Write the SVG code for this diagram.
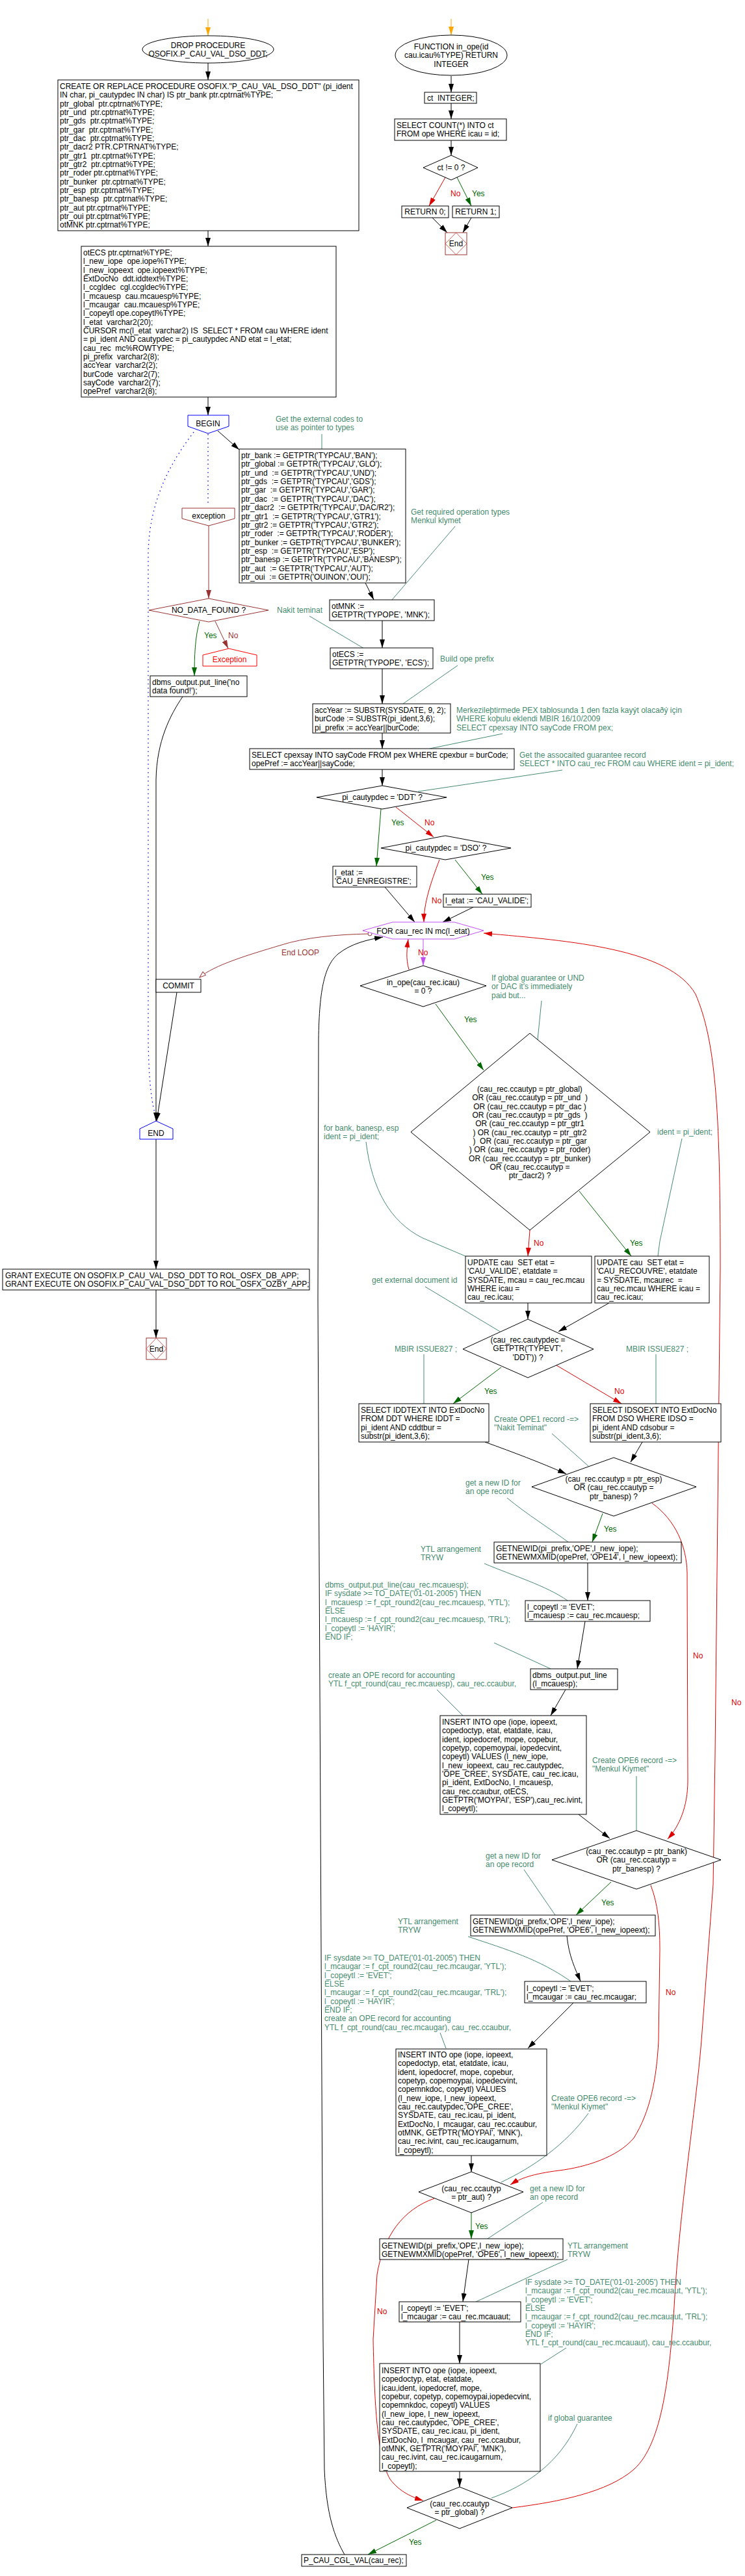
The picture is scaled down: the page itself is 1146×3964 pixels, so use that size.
<svg xmlns="http://www.w3.org/2000/svg" width="1146" height="3964" viewBox="0 0 1146 3964">
<style>
text{font-family:"Liberation Sans",Arial,sans-serif;font-size:12px;fill:#000;white-space:pre}
.m{text-anchor:middle}
.c{fill:#468a6e}
.y{fill:#006600}
.n{fill:#dd0000}
.dr{fill:#993333}
.box{fill:#fff;stroke:#000;stroke-width:1}
.e{fill:none;stroke:#000;stroke-width:1}
.eg{fill:none;stroke:#006600;stroke-width:1}
.er{fill:none;stroke:#dd0000;stroke-width:1}
.edr{fill:none;stroke:#993333;stroke-width:1}
.ec{fill:none;stroke:#468a6e;stroke-width:1}
.ep{fill:none;stroke:#c050f0;stroke-width:1}
.eb{fill:none;stroke:#0000ff;stroke-width:1.3;stroke-dasharray:1.5 5}
.term{fill:#fff;stroke:#993333;stroke-width:1}
</style>
<defs>
<marker id="a" markerUnits="userSpaceOnUse" markerWidth="13" markerHeight="8" refX="13" refY="4" orient="auto"><path d="M0,0L13,4L0,8Z" fill="#000"/></marker>
<marker id="ag" markerUnits="userSpaceOnUse" markerWidth="13" markerHeight="8" refX="13" refY="4" orient="auto"><path d="M0,0L13,4L0,8Z" fill="#006600"/></marker>
<marker id="ar" markerUnits="userSpaceOnUse" markerWidth="13" markerHeight="8" refX="13" refY="4" orient="auto"><path d="M0,0L13,4L0,8Z" fill="#dd0000"/></marker>
<marker id="adr" markerUnits="userSpaceOnUse" markerWidth="13" markerHeight="8" refX="13" refY="4" orient="auto"><path d="M0,0L13,4L0,8Z" fill="#993333"/></marker>
<marker id="ap" markerUnits="userSpaceOnUse" markerWidth="13" markerHeight="8" refX="13" refY="4" orient="auto"><path d="M0,0L13,4L0,8Z" fill="#c050f0"/></marker>
<marker id="ao" markerUnits="userSpaceOnUse" markerWidth="13" markerHeight="8" refX="13" refY="4" orient="auto"><path d="M0,0L13,4L0,8Z" fill="#ffa500"/></marker>
<marker id="aopen" markerUnits="userSpaceOnUse" markerWidth="11" markerHeight="8" refX="10" refY="4" orient="auto"><path d="M0.5,0.5L10,4L0.5,7.5Z" fill="#fff" stroke="#993333"/></marker>
</defs>

<g id="connectors">
<!-- procedure top -->
<line class="e" x1="320" y1="29" x2="320" y2="55" style="stroke:#ffa500" marker-end="url(#ao)"/>
<line class="e" x1="320" y1="97" x2="320" y2="123" marker-end="url(#a)"/>
<line class="e" x1="320" y1="355" x2="320" y2="379" marker-end="url(#a)"/>
<line class="e" x1="320" y1="611" x2="320" y2="639" marker-end="url(#a)"/>
<line class="e" x1="335" y1="663" x2="368" y2="692" marker-end="url(#a)"/>
<line class="eb" x1="320" y1="668" x2="320" y2="776"/>
<path class="eb" d="M298,665 C262,712 230,770 228,850 L228,1600 Q229,1680 238,1712"/>
<line class="edr" x1="321" y1="809" x2="321" y2="921" marker-end="url(#adr)"/>
<path class="eg" d="M307,956 C300,980 299,1010 299,1040" marker-end="url(#ag)"/>
<line class="edr" x1="331" y1="956" x2="351" y2="998" marker-end="url(#adr)"/>
<path class="e" d="M281,1072 C262,1100 241,1140 240,1200 L240,1725" marker-end="url(#a)"/>
<line class="e" x1="272" y1="1527" x2="241" y2="1725" marker-end="url(#a)"/>
<line class="e" x1="240" y1="1753" x2="240" y2="1953" marker-end="url(#a)"/>
<line class="e" x1="240" y1="1985" x2="240" y2="2059" marker-end="url(#a)"/>
<!-- init chain -->
<line class="e" x1="562" y1="897" x2="575" y2="923" marker-end="url(#a)"/>
<line class="e" x1="588" y1="955" x2="588" y2="997" marker-end="url(#a)"/>
<line class="e" x1="588" y1="1029" x2="588" y2="1083" marker-end="url(#a)"/>
<line class="e" x1="588" y1="1128" x2="588" y2="1152" marker-end="url(#a)"/>
<line class="e" x1="588" y1="1184" x2="588" y2="1209" marker-end="url(#a)"/>
<line class="eg" x1="586" y1="1245" x2="579" y2="1333" marker-end="url(#ag)"/>
<line class="er" x1="609" y1="1242" x2="667" y2="1288" marker-end="url(#ar)"/>
<line class="eg" x1="700" y1="1323" x2="742" y2="1376" marker-end="url(#ag)"/>
<path class="er" d="M676,1323 C662,1360 652,1390 652,1419" marker-end="url(#ar)"/>
<line class="e" x1="592" y1="1365" x2="638" y2="1419" marker-end="url(#a)"/>
<line class="e" x1="728" y1="1396" x2="681" y2="1419" marker-end="url(#a)"/>
<!-- loop -->
<path class="edr" d="M566,1437 C520,1438 470,1442 430,1455 C380,1470 330,1485 307,1504" marker-end="url(#aopen)"/>
<circle cx="569" cy="1437" r="3" fill="#fff" stroke="#993333"/>
<line class="ep" x1="651" y1="1445" x2="651" y2="1486" marker-end="url(#ap)"/>
<path class="er" d="M629,1492 C624,1475 626,1460 628,1445" marker-end="url(#ar)"/>
<path class="e" d="M530,3931 C515,3905 502,3870 499,3800 L497,3600 L489,2000 L490,1600 C491,1520 500,1485 520,1468 C540,1452 565,1446 589,1442" marker-end="url(#a)"/>
<path class="er" d="M788,3859 C860,3850 935,3835 975,3800 C1020,3760 1030,3650 1037,3550 C1045,3400 1070,3250 1079,3140 L1097,2900 L1100,2700 L1108,1950 C1108,1700 1100,1600 1070,1530 C1030,1460 880,1448 744,1436" marker-end="url(#ar)"/>
<line class="eg" x1="670" y1="1545" x2="744" y2="1647" marker-end="url(#ag)"/>
<line class="er" x1="815" y1="1893" x2="812" y2="1933" marker-end="url(#ar)"/>
<line class="eg" x1="891" y1="1833" x2="971" y2="1933" marker-end="url(#ag)"/>
<line class="e" x1="812" y1="2005" x2="812" y2="2030" marker-end="url(#a)"/>
<line class="e" x1="937" y1="2005" x2="859" y2="2049" marker-end="url(#a)"/>
<line class="eg" x1="771" y1="2104" x2="697" y2="2160" marker-end="url(#ag)"/>
<line class="er" x1="856" y1="2101" x2="956" y2="2160" marker-end="url(#ar)"/>
<path class="e" d="M746,2219 C790,2235 830,2250 871,2268" marker-end="url(#a)"/>
<line class="e" x1="988" y1="2219" x2="970" y2="2250" marker-end="url(#a)"/>
<line class="eg" x1="927" y1="2329" x2="911" y2="2373" marker-end="url(#ag)"/>
<path class="er" d="M1003,2313 C1040,2340 1056,2380 1057,2420 L1058,2740 C1058,2780 1045,2810 1027,2830" marker-end="url(#ar)"/>
<line class="e" x1="904" y1="2405" x2="904" y2="2463" marker-end="url(#a)"/>
<line class="e" x1="900" y1="2495" x2="888" y2="2568" marker-end="url(#a)"/>
<line class="e" x1="870" y1="2600" x2="847" y2="2640" marker-end="url(#a)"/>
<line class="e" x1="890" y1="2792" x2="938" y2="2829" marker-end="url(#a)"/>
<line class="eg" x1="940" y1="2896" x2="886" y2="2947" marker-end="url(#ag)"/>
<path class="er" d="M1001,2901 C1012,2930 1015,2960 1015,3000 L1013,3140 C1010,3200 1000,3250 975,3290 C950,3320 900,3335 860,3340 C820,3345 800,3352 785,3362" marker-end="url(#ar)"/>
<path class="e" d="M872,2979 C875,3010 885,3030 893,3049" marker-end="url(#a)"/>
<line class="e" x1="882" y1="3082" x2="812" y2="3152" marker-end="url(#a)"/>
<line class="e" x1="725" y1="3317" x2="725" y2="3342" marker-end="url(#a)"/>
<line class="eg" x1="725" y1="3405" x2="725" y2="3445" marker-end="url(#ag)"/>
<path class="er" d="M668,3383 C620,3400 590,3440 580,3500 L574,3600 C576,3700 580,3780 600,3815 C615,3835 635,3843 651,3848" marker-end="url(#ar)"/>
<line class="e" x1="721" y1="3477" x2="712" y2="3542" marker-end="url(#a)"/>
<line class="e" x1="707" y1="3573" x2="707" y2="3637" marker-end="url(#a)"/>
<line class="e" x1="707" y1="3803" x2="707" y2="3827" marker-end="url(#a)"/>
<line class="eg" x1="671" y1="3878" x2="566" y2="3931" marker-end="url(#ag)"/>
<!-- function -->
<line class="e" x1="694" y1="29" x2="694" y2="54" style="stroke:#ffa500" marker-end="url(#ao)"/>
<line class="e" x1="694" y1="117" x2="694" y2="142" marker-end="url(#a)"/>
<line class="e" x1="694" y1="159" x2="694" y2="183" marker-end="url(#a)"/>
<line class="e" x1="694" y1="216" x2="694" y2="239" marker-end="url(#a)"/>
<line class="er" x1="685" y1="273" x2="660" y2="317" marker-end="url(#ar)"/>
<line class="eg" x1="703" y1="273" x2="725" y2="317" marker-end="url(#ag)"/>
<line class="e" x1="665" y1="335" x2="688" y2="358" marker-end="url(#a)"/>
<line class="e" x1="725" y1="335" x2="712" y2="358" marker-end="url(#a)"/>
<!-- comment links -->
<line class="ec" x1="495" y1="668" x2="495" y2="692"/>
<line class="ec" x1="700" y1="810" x2="603" y2="923"/>
<line class="ec" x1="476" y1="948" x2="560" y2="998"/>
<path class="ec" d="M704,1024 L681,1040 L620,1083"/>
<line class="ec" x1="773" y1="1129" x2="661" y2="1152"/>
<line class="ec" x1="865" y1="1185" x2="643" y2="1218"/>
<line class="ec" x1="833" y1="1540" x2="827" y2="1600"/>
<path class="ec" d="M563,1757 C572,1830 600,1880 650,1905 L716,1933"/>
<path class="ec" d="M1049,1752 L1015,1910 L1012,1933"/>
<line class="ec" x1="654" y1="1980" x2="769" y2="2049"/>
<line class="ec" x1="652" y1="2084" x2="652" y2="2160"/>
<line class="ec" x1="1009" y1="2084" x2="1009" y2="2160"/>
<line class="ec" x1="849" y1="2206" x2="905" y2="2256"/>
<path class="ec" d="M780,2305 C810,2330 850,2355 874,2373"/>
<path class="ec" d="M745,2406 C790,2425 840,2440 873,2463"/>
<line class="ec" x1="760" y1="2528" x2="847" y2="2568"/>
<line class="ec" x1="672" y1="2600" x2="712" y2="2640"/>
<line class="ec" x1="979" y1="2733" x2="979" y2="2817"/>
<line class="ec" x1="806" y1="2877" x2="854" y2="2947"/>
<path class="ec" d="M720,2980 C780,3000 830,3015 878,3049"/>
<line class="ec" x1="677" y1="3128" x2="686" y2="3152"/>
<path class="ec" d="M905,3252 C870,3300 820,3335 771,3358"/>
<line class="ec" x1="835" y1="3389" x2="750" y2="3445"/>
<path class="ec" d="M873,3477 C820,3500 770,3525 732,3542"/>
<line class="ec" x1="871" y1="3613" x2="832" y2="3638"/>
<path class="ec" d="M888,3730 C860,3790 810,3825 756,3844"/>
</g>

<g id="edge-labels">
<text x="314" y="982" class="y">Yes</text>
<text x="351" y="982" class="dr">No</text>
<text x="602" y="1270" class="y">Yes</text>
<text x="653" y="1270" class="n">No</text>
<text x="740" y="1354" class="y">Yes</text>
<text x="664" y="1390" class="n">No</text>
<text x="433" y="1470" class="dr">End LOOP</text>
<text x="643" y="1470" class="n">No</text>
<text x="714" y="1573" class="y">Yes</text>
<text x="821" y="1917" class="n">No</text>
<text x="969" y="1917" class="y">Yes</text>
<text x="745" y="2145" class="y">Yes</text>
<text x="945" y="2145" class="n">No</text>
<text x="929" y="2357" class="y">Yes</text>
<text x="1066" y="2552" class="n">No</text>
<text x="1125" y="2624" class="n">No</text>
<text x="925" y="2932" class="y">Yes</text>
<text x="1024" y="3070" class="n">No</text>
<text x="731" y="3430" class="y">Yes</text>
<text x="580" y="3561" class="n">No</text>
<text x="629" y="3916" class="y">Yes</text>
<text x="693" y="302" class="n">No</text>
<text x="726" y="302" class="y">Yes</text>
</g>

<g id="comments">
<text x="424" y="649" class="c">Get the external codes to<tspan x="424" dy="13">use as pointer to types</tspan></text>
<text x="632" y="792" class="c">Get required operation types<tspan x="632" dy="13">Menkul klymet</tspan></text>
<text x="426" y="943" class="c">Nakit teminat</text>
<text x="677" y="1018" class="c">Build ope prefix</text>
<text x="702" y="1097" class="c">Merkezileþtirmede PEX tablosunda 1 den fazla kayýt olacaðý için<tspan x="702" dy="13.33">WHERE koþulu eklendi MBIR 16/10/2009</tspan><tspan x="702" dy="13.33">SELECT cpexsay INTO sayCode FROM pex;</tspan></text>
<text x="799" y="1166" class="c">Get the assocaited guarantee record<tspan x="799" dy="13.33">SELECT * INTO cau_rec FROM cau WHERE ident = pi_ident;</tspan></text>
<text x="756" y="1509" class="c">If global guarantee or UND<tspan x="756" dy="13.33">or DAC it's immediately</tspan><tspan x="756" dy="13.33">paid but...</tspan></text>
<text x="498" y="1740" class="c">for bank, banesp, esp<tspan x="498" dy="13.33">ident = pi_ident;</tspan></text>
<text x="1011" y="1746" class="c">ident = pi_ident;</text>
<text x="572" y="1974" class="c">get external document id</text>
<text x="607" y="2080" class="c">MBIR ISSUE827 ;</text>
<text x="963" y="2080" class="c">MBIR ISSUE827 ;</text>
<text x="760" y="2188" class="c">Create OPE1 record -=&gt;<tspan x="760" dy="13.33">"Nakit Teminat"</tspan></text>
<text x="716" y="2286" class="c">get a new ID for<tspan x="716" dy="13.33">an ope record</tspan></text>
<text x="647" y="2388" class="c">YTL arrangement<tspan x="647" dy="13.33">TRYW</tspan></text>
<text x="500" y="2443" class="c">dbms_output.put_line(cau_rec.mcauesp);<tspan x="500" dy="13.33">IF sysdate &gt;= TO_DATE('01-01-2005') THEN</tspan><tspan x="500" dy="13.33">l_mcauesp := f_cpt_round2(cau_rec.mcauesp, 'YTL');</tspan><tspan x="500" dy="13.33">ELSE</tspan><tspan x="500" dy="13.33">l_mcauesp := f_cpt_round2(cau_rec.mcauesp, 'TRL');</tspan><tspan x="500" dy="13.33">l_copeytl := 'HAYIR';</tspan><tspan x="500" dy="13.33">END IF;</tspan></text>
<text x="505" y="2582" class="c">create an OPE record for accounting<tspan x="505" dy="13.33">YTL f_cpt_round(cau_rec.mcauesp), cau_rec.ccaubur,</tspan></text>
<text x="911" y="2713" class="c">Create OPE6 record -=&gt;<tspan x="911" dy="13.33">"Menkul Kiymet"</tspan></text>
<text x="747" y="2860" class="c">get a new ID for<tspan x="747" dy="13.33">an ope record</tspan></text>
<text x="612" y="2961" class="c">YTL arrangement<tspan x="612" dy="13.33">TRYW</tspan></text>
<text x="499" y="3017" class="c">IF sysdate &gt;= TO_DATE('01-01-2005') THEN<tspan x="499" dy="13.33">l_mcaugar := f_cpt_round2(cau_rec.mcaugar, 'YTL');</tspan><tspan x="499" dy="13.33">l_copeytl := 'EVET';</tspan><tspan x="499" dy="13.33">ELSE</tspan><tspan x="499" dy="13.33">l_mcaugar := f_cpt_round2(cau_rec.mcaugar, 'TRL');</tspan><tspan x="499" dy="13.33">l_copeytl := 'HAYIR';</tspan><tspan x="499" dy="13.33">END IF;</tspan><tspan x="499" dy="13.33">create an OPE record for accounting</tspan><tspan x="499" dy="13.33">YTL f_cpt_round(cau_rec.mcaugar), cau_rec.ccaubur,</tspan></text>
<text x="848" y="3233" class="c">Create OPE6 record -=&gt;<tspan x="848" dy="13.33">"Menkul Kiymet"</tspan></text>
<text x="815" y="3372" class="c">get a new ID for<tspan x="815" dy="13.33">an ope record</tspan></text>
<text x="873" y="3460" class="c">YTL arrangement<tspan x="873" dy="13.33">TRYW</tspan></text>
<text x="808" y="3516" class="c">IF sysdate &gt;= TO_DATE('01-01-2005') THEN<tspan x="808" dy="13.33">l_mcaugar := f_cpt_round2(cau_rec.mcauaut, 'YTL');</tspan><tspan x="808" dy="13.33">l_copeytl := 'EVET';</tspan><tspan x="808" dy="13.33">ELSE</tspan><tspan x="808" dy="13.33">l_mcaugar := f_cpt_round2(cau_rec.mcauaut, 'TRL');</tspan><tspan x="808" dy="13.33">l_copeytl := 'HAYIR';</tspan><tspan x="808" dy="13.33">END IF;</tspan><tspan x="808" dy="13.33">YTL f_cpt_round(cau_rec.mcauaut), cau_rec.ccaubur,</tspan></text>
<text x="843" y="3725" class="c">if global guarantee</text>
</g>

<g id="n-drop"><ellipse cx="320" cy="76" rx="101" ry="21" class="box"/><text x="320" y="74" class="m">DROP PROCEDURE<tspan x="320" dy="13">OSOFIX.P_CAU_VAL_DSO_DDT;</tspan></text></g>
<g id="n-create"><rect x="89" y="123" width="463" height="232" class="box"/><text x="92" y="137">CREATE OR REPLACE PROCEDURE OSOFIX."P_CAU_VAL_DSO_DDT" (pi_ident<tspan x="92" dy="13.33">IN char, pi_cautypdec IN char) IS ptr_bank ptr.cptrnat%TYPE;</tspan><tspan x="92" dy="13.33">ptr_global  ptr.cptrnat%TYPE;</tspan><tspan x="92" dy="13.33">ptr_und  ptr.cptrnat%TYPE;</tspan><tspan x="92" dy="13.33">ptr_gds  ptr.cptrnat%TYPE;</tspan><tspan x="92" dy="13.33">ptr_gar  ptr.cptrnat%TYPE;</tspan><tspan x="92" dy="13.33">ptr_dac  ptr.cptrnat%TYPE;</tspan><tspan x="92" dy="13.33">ptr_dacr2 PTR.CPTRNAT%TYPE;</tspan><tspan x="92" dy="13.33">ptr_gtr1  ptr.cptrnat%TYPE;</tspan><tspan x="92" dy="13.33">ptr_gtr2  ptr.cptrnat%TYPE;</tspan><tspan x="92" dy="13.33">ptr_roder ptr.cptrnat%TYPE;</tspan><tspan x="92" dy="13.33">ptr_bunker  ptr.cptrnat%TYPE;</tspan><tspan x="92" dy="13.33">ptr_esp  ptr.cptrnat%TYPE;</tspan><tspan x="92" dy="13.33">ptr_banesp  ptr.cptrnat%TYPE;</tspan><tspan x="92" dy="13.33">ptr_aut ptr.cptrnat%TYPE;</tspan><tspan x="92" dy="13.33">ptr_oui ptr.cptrnat%TYPE;</tspan><tspan x="92" dy="13.33">otMNK ptr.cptrnat%TYPE;</tspan></text></g>
<g id="n-decl"><rect x="125" y="379" width="392" height="232" class="box"/><text x="128" y="393">otECS ptr.cptrnat%TYPE;<tspan x="128" dy="13.33">l_new_iope  ope.iope%TYPE;</tspan><tspan x="128" dy="13.33">l_new_iopeext  ope.iopeext%TYPE;</tspan><tspan x="128" dy="13.33">ExtDocNo  ddt.iddtext%TYPE;</tspan><tspan x="128" dy="13.33">l_ccgldec  cgl.ccgldec%TYPE;</tspan><tspan x="128" dy="13.33">l_mcauesp  cau.mcauesp%TYPE;</tspan><tspan x="128" dy="13.33">l_mcaugar  cau.mcauesp%TYPE;</tspan><tspan x="128" dy="13.33">l_copeytl ope.copeytl%TYPE;</tspan><tspan x="128" dy="13.33">l_etat  varchar2(20);</tspan><tspan x="128" dy="13.33">CURSOR mc(l_etat  varchar2) IS  SELECT * FROM cau WHERE ident</tspan><tspan x="128" dy="13.33">= pi_ident AND cautypdec = pi_cautypdec AND etat = l_etat;</tspan><tspan x="128" dy="13.33">cau_rec  mc%ROWTYPE;</tspan><tspan x="128" dy="13.33">pi_prefix  varchar2(8);</tspan><tspan x="128" dy="13.33">accYear  varchar2(2);</tspan><tspan x="128" dy="13.33">burCode  varchar2(7);</tspan><tspan x="128" dy="13.33">sayCode  varchar2(7);</tspan><tspan x="128" dy="13.33">opePref  varchar2(8);</tspan></text></g>
<g id="n-begin"><path d="M289,639H352V656L320,667L289,656Z" fill="#fff" stroke="#0000ff"/><text x="320" y="656" class="m">BEGIN</text></g>
<g id="n-ptr"><rect x="368" y="691" width="256" height="206" class="box"/><text x="371" y="705">ptr_bank := GETPTR('TYPCAU','BAN');<tspan x="371" dy="13.36">ptr_global := GETPTR('TYPCAU','GLO');</tspan><tspan x="371" dy="13.36">ptr_und  := GETPTR('TYPCAU','UND');</tspan><tspan x="371" dy="13.36">ptr_gds  := GETPTR('TYPCAU','GDS');</tspan><tspan x="371" dy="13.36">ptr_gar  := GETPTR('TYPCAU','GAR');</tspan><tspan x="371" dy="13.36">ptr_dac  := GETPTR('TYPCAU','DAC');</tspan><tspan x="371" dy="13.36">ptr_dacr2  := GETPTR('TYPCAU','DAC/R2');</tspan><tspan x="371" dy="13.36">ptr_gtr1  := GETPTR('TYPCAU','GTR1');</tspan><tspan x="371" dy="13.36">ptr_gtr2 := GETPTR('TYPCAU','GTR2');</tspan><tspan x="371" dy="13.36">ptr_roder  := GETPTR('TYPCAU','RODER');</tspan><tspan x="371" dy="13.36">ptr_bunker := GETPTR('TYPCAU','BUNKER');</tspan><tspan x="371" dy="13.36">ptr_esp  := GETPTR('TYPCAU','ESP');</tspan><tspan x="371" dy="13.36">ptr_banesp := GETPTR('TYPCAU','BANESP');</tspan><tspan x="371" dy="13.36">ptr_aut  := GETPTR('TYPCAU','AUT');</tspan><tspan x="371" dy="13.36">ptr_oui  := GETPTR('OUINON','OUI');</tspan></text></g>
<g id="n-exception"><path d="M280,782H361V798L321,809L280,798Z" fill="#fff" stroke="#993333"/><text x="321" y="798" class="m">exception</text></g>
<g id="n-nodata"><polygon points="321,921 413,939 321,957 229,939" fill="#fff" stroke="#993333"/><text x="321" y="943" class="m">NO_DATA_FOUND ?</text></g>
<g id="n-exc2"><path d="M312,1008L352,998L395,1008V1025H312Z" fill="#fff" stroke="#ff0000"/><text x="353" y="1019" class="m" style="fill:#ff0000">Exception</text></g>
<g id="n-dbmsno"><rect x="231" y="1040" width="149" height="32" class="box"/><text x="234" y="1054">dbms_output.put_line('no<tspan x="234" dy="13.33">data found!');</tspan></text></g>
<g id="n-otmnk"><rect x="507" y="923" width="161" height="32" class="box"/><text x="510" y="937">otMNK :=<tspan x="510" dy="13.33">GETPTR('TYPOPE', 'MNK');</tspan></text></g>
<g id="n-otecs"><rect x="508" y="997" width="158" height="32" class="box"/><text x="511" y="1011">otECS :=<tspan x="511" dy="13.33">GETPTR('TYPOPE', 'ECS');</tspan></text></g>
<g id="n-accyear"><rect x="481" y="1083" width="212" height="45" class="box"/><text x="484" y="1097">accYear := SUBSTR(SYSDATE, 9, 2);<tspan x="484" dy="13.33">burCode := SUBSTR(pi_ident,3,6);</tspan><tspan x="484" dy="13.33">pi_prefix := accYear||burCode;</tspan></text></g>
<g id="n-cpexsay"><rect x="384" y="1152" width="407" height="32" class="box"/><text x="387" y="1166">SELECT cpexsay INTO sayCode FROM pex WHERE cpexbur = burCode;<tspan x="387" dy="13.33">opePref := accYear||sayCode;</tspan></text></g>
<g id="n-ddt"><polygon points="588,1209 687,1227 588,1245 487,1227" class="box"/><text x="588" y="1231" class="m">pi_cautypdec = 'DDT' ?</text></g>
<g id="n-dso"><polygon points="685,1286 786,1305 685,1323 586,1305" class="box"/><text x="686" y="1309" class="m">pi_cautypdec = 'DSO' ?</text></g>
<g id="n-enreg"><rect x="512" y="1333" width="129" height="32" class="box"/><text x="515" y="1347">l_etat :=<tspan x="515" dy="13.33">'CAU_ENREGISTRE';</tspan></text></g>
<g id="n-valide"><rect x="682" y="1376" width="135" height="20" class="box"/><text x="685" y="1390">l_etat := 'CAU_VALIDE';</text></g>
<g id="n-for"><polygon points="558,1432 604,1419 699,1419 744,1432 699,1445 604,1445" fill="#fff" stroke="#c050f0"/><text x="651" y="1437" class="m">FOR cau_rec IN mc(l_etat)</text></g>
<g id="n-commit"><rect x="240" y="1507" width="69" height="20" class="box"/><text x="274.5" y="1521" class="m">COMMIT</text></g>
<g id="n-end"><path d="M240,1725L266,1737V1753H215V1737Z" fill="#fff" stroke="#0000ff"/><text x="240" y="1748" class="m">END</text></g>
<g id="n-grant"><rect x="4" y="1953" width="472" height="32" class="box"/><text x="8" y="1967">GRANT EXECUTE ON OSOFIX.P_CAU_VAL_DSO_DDT TO ROL_OSFX_DB_APP;<tspan x="8" dy="13.33">GRANT EXECUTE ON OSOFIX.P_CAU_VAL_DSO_DDT TO ROL_OSFX_OZBY_APP;</tspan></text></g>
<g id="n-endterm"><rect x="225" y="2059" width="31" height="33" class="term"/><polygon points="240.5,2059 256,2075.5 240.5,2092 225,2075.5" fill="none" stroke="#cc3333" stroke-width="0.8"/><text x="240.5" y="2080" class="m">End</text></g>
<g id="n-inope"><polygon points="651,1486 748,1517 651,1549 554,1517" class="box"/><text x="651" y="1516" class="m">in_ope(cau_rec.icau)<tspan x="651" dy="13.33">= 0 ?</tspan></text></g>
<g id="n-bigdiamond"><polygon points="815,1590 1000,1742 815,1893 632,1742" class="box"/><text x="815" y="1680" class="m">(cau_rec.ccautyp = ptr_global)<tspan x="815" dy="13.33">OR (cau_rec.ccautyp = ptr_und  )</tspan><tspan x="815" dy="13.33">OR (cau_rec.ccautyp = ptr_dac )</tspan><tspan x="815" dy="13.33">OR (cau_rec.ccautyp = ptr_gds  )</tspan><tspan x="815" dy="13.33">OR (cau_rec.ccautyp = ptr_gtr1</tspan><tspan x="815" dy="13.33">) OR (cau_rec.ccautyp = ptr_gtr2</tspan><tspan x="815" dy="13.33">)  OR (cau_rec.ccautyp = ptr_gar</tspan><tspan x="815" dy="13.33">) OR (cau_rec.ccautyp = ptr_roder)</tspan><tspan x="815" dy="13.33">OR (cau_rec.ccautyp = ptr_bunker)</tspan><tspan x="815" dy="13.33">OR (cau_rec.ccautyp =</tspan><tspan x="815" dy="13.33">ptr_dacr2) ?</tspan></text></g>
<g id="n-upd-valide"><rect x="716" y="1933" width="194" height="72" class="box"/><text x="719" y="1947">UPDATE cau  SET etat =<tspan x="719" dy="13.33">'CAU_VALIDE', etatdate =</tspan><tspan x="719" dy="13.33">SYSDATE, mcau = cau_rec.mcau</tspan><tspan x="719" dy="13.33">WHERE icau =</tspan><tspan x="719" dy="13.33">cau_rec.icau;</tspan></text></g>
<g id="n-upd-recouvre"><rect x="915" y="1933" width="176" height="72" class="box"/><text x="918" y="1947">UPDATE cau  SET etat =<tspan x="918" dy="13.33">'CAU_RECOUVRE', etatdate</tspan><tspan x="918" dy="13.33">= SYSDATE, mcaurec  =</tspan><tspan x="918" dy="13.33">cau_rec.mcau WHERE icau =</tspan><tspan x="918" dy="13.33">cau_rec.icau;</tspan></text></g>
<g id="n-typevt"><polygon points="812,2030 913,2076 812,2120 712,2076" class="box"/><text x="812" y="2066" class="m">(cau_rec.cautypdec =<tspan x="812" dy="13.33">GETPTR('TYPEVT',</tspan><tspan x="812" dy="13.33">'DDT')) ?</tspan></text></g>
<g id="n-iddtext"><rect x="552" y="2160" width="200" height="59" class="box"/><text x="555" y="2174">SELECT IDDTEXT INTO ExtDocNo<tspan x="555" dy="13.33">FROM DDT WHERE IDDT =</tspan><tspan x="555" dy="13.33">pi_ident AND cddtbur =</tspan><tspan x="555" dy="13.33">substr(pi_ident,3,6);</tspan></text></g>
<g id="n-idsoext"><rect x="908" y="2160" width="201" height="59" class="box"/><text x="911" y="2174">SELECT IDSOEXT INTO ExtDocNo<tspan x="911" dy="13.33">FROM DSO WHERE IDSO =</tspan><tspan x="911" dy="13.33">pi_ident AND cdsobur =</tspan><tspan x="911" dy="13.33">substr(pi_ident,3,6);</tspan></text></g>
<g id="n-esp"><polygon points="944,2243 1071,2288 944,2333 818,2288" class="box"/><text x="944" y="2280" class="m">(cau_rec.ccautyp = ptr_esp)<tspan x="944" dy="13.33">OR (cau_rec.ccautyp =</tspan><tspan x="944" dy="13.33">ptr_banesp) ?</tspan></text></g>
<g id="n-newid1"><rect x="760" y="2373" width="288" height="32" class="box"/><text x="763" y="2387">GETNEWID(pi_prefix,'OPE',l_new_iope);<tspan x="763" dy="13.33">GETNEWMXMID(opePref, 'OPE14', l_new_iopeext);</tspan></text></g>
<g id="n-copeytl1"><rect x="808" y="2463" width="192" height="32" class="box"/><text x="811" y="2477">l_copeytl := 'EVET';<tspan x="811" dy="13.33">l_mcauesp := cau_rec.mcauesp;</tspan></text></g>
<g id="n-dbms2"><rect x="816" y="2568" width="134" height="32" class="box"/><text x="819" y="2582">dbms_output.put_line<tspan x="819" dy="13.33">(l_mcauesp);</tspan></text></g>
<g id="n-insert1"><rect x="677" y="2640" width="225" height="152" class="box"/><text x="680" y="2654">INSERT INTO ope (iope, iopeext,<tspan x="680" dy="13.33">copedoctyp, etat, etatdate, icau,</tspan><tspan x="680" dy="13.33">ident, iopedocref, mope, copebur,</tspan><tspan x="680" dy="13.33">copetyp, copemoypai, iopedecvint,</tspan><tspan x="680" dy="13.33">copeytl) VALUES (l_new_iope,</tspan><tspan x="680" dy="13.33">l_new_iopeext, cau_rec.cautypdec,</tspan><tspan x="680" dy="13.33">'OPE_CREE', SYSDATE, cau_rec.icau,</tspan><tspan x="680" dy="13.33">pi_ident, ExtDocNo, l_mcauesp,</tspan><tspan x="680" dy="13.33">cau_rec.ccaubur, otECS,</tspan><tspan x="680" dy="13.33">GETPTR('MOYPAI', 'ESP'),cau_rec.ivint,</tspan><tspan x="680" dy="13.33">l_copeytl);</tspan></text></g>
<g id="n-bank"><polygon points="979,2817 1109,2862 979,2907 849,2862" class="box"/><text x="979" y="2853" class="m">(cau_rec.ccautyp = ptr_bank)<tspan x="979" dy="13.33">OR (cau_rec.ccautyp =</tspan><tspan x="979" dy="13.33">ptr_banesp) ?</tspan></text></g>
<g id="n-newid2"><rect x="724" y="2947" width="284" height="32" class="box"/><text x="727" y="2961">GETNEWID(pi_prefix,'OPE',l_new_iope);<tspan x="727" dy="13.33">GETNEWMXMID(opePref, 'OPE6', l_new_iopeext);</tspan></text></g>
<g id="n-copeytl2"><rect x="807" y="3049" width="187" height="33" class="box"/><text x="810" y="3064">l_copeytl := 'EVET';<tspan x="810" dy="13.33">l_mcaugar := cau_rec.mcaugar;</tspan></text></g>
<g id="n-insert2"><rect x="609" y="3153" width="232" height="164" class="box"/><text x="612" y="3166">INSERT INTO ope (iope, iopeext,<tspan x="612" dy="13.33">copedoctyp, etat, etatdate, icau,</tspan><tspan x="612" dy="13.33">ident, iopedocref, mope, copebur,</tspan><tspan x="612" dy="13.33">copetyp, copemoypai, iopedecvint,</tspan><tspan x="612" dy="13.33">copemnkdoc, copeytl) VALUES</tspan><tspan x="612" dy="13.33">(l_new_iope, l_new_iopeext,</tspan><tspan x="612" dy="13.33">cau_rec.cautypdec,'OPE_CREE',</tspan><tspan x="612" dy="13.33">SYSDATE, cau_rec.icau, pi_ident,</tspan><tspan x="612" dy="13.33">ExtDocNo, l_mcaugar, cau_rec.ccaubur,</tspan><tspan x="612" dy="13.33">otMNK, GETPTR('MOYPAI', 'MNK'),</tspan><tspan x="612" dy="13.33">cau_rec.ivint, cau_rec.icaugarnum,</tspan><tspan x="612" dy="13.33">l_copeytl);</tspan></text></g>
<g id="n-aut"><polygon points="725,3342 805,3373 725,3405 644,3373" class="box"/><text x="725" y="3372" class="m">(cau_rec.ccautyp<tspan x="725" dy="13.33">= ptr_aut) ?</tspan></text></g>
<g id="n-newid3"><rect x="584" y="3445" width="282" height="32" class="box"/><text x="587" y="3460">GETNEWID(pi_prefix,'OPE',l_new_iope);<tspan x="587" dy="13.33">GETNEWMXMID(opePref, 'OPE6', l_new_iopeext);</tspan></text></g>
<g id="n-copeytl3"><rect x="614" y="3542" width="187" height="31" class="box"/><text x="617" y="3556">l_copeytl := 'EVET';<tspan x="617" dy="13.33">l_mcaugar := cau_rec.mcauaut;</tspan></text></g>
<g id="n-insert3"><rect x="584" y="3637" width="247" height="166" class="box"/><text x="587" y="3652">INSERT INTO ope (iope, iopeext,<tspan x="587" dy="13.33">copedoctyp, etat, etatdate,</tspan><tspan x="587" dy="13.33">icau,ident, iopedocref, mope,</tspan><tspan x="587" dy="13.33">copebur, copetyp, copemoypai,iopedecvint,</tspan><tspan x="587" dy="13.33">copemnkdoc, copeytl) VALUES</tspan><tspan x="587" dy="13.33">(l_new_iope, l_new_iopeext,</tspan><tspan x="587" dy="13.33">cau_rec.cautypdec, 'OPE_CREE',</tspan><tspan x="587" dy="13.33">SYSDATE, cau_rec.icau, pi_ident,</tspan><tspan x="587" dy="13.33">ExtDocNo, l_mcaugar, cau_rec.ccaubur,</tspan><tspan x="587" dy="13.33">otMNK, GETPTR('MOYPAI', 'MNK'),</tspan><tspan x="587" dy="13.33">cau_rec.ivint, cau_rec.icaugarnum,</tspan><tspan x="587" dy="13.33">l_copeytl);</tspan></text></g>
<g id="n-global"><polygon points="707,3827 788,3859 707,3891 626,3859" class="box"/><text x="707" y="3857" class="m">(cau_rec.ccautyp<tspan x="707" dy="13.33">= ptr_global) ?</tspan></text></g>
<g id="n-cgl"><rect x="464" y="3931" width="161" height="18" class="box"/><text x="467" y="3944">P_CAU_CGL_VAL(cau_rec);</text></g>

<g id="f-func"><ellipse cx="694" cy="85" rx="86" ry="31" class="box"/><text x="694" y="76" class="m">FUNCTION in_ope(id<tspan x="694" dy="13.33">cau.icau%TYPE) RETURN</tspan><tspan x="694" dy="13.33">INTEGER</tspan></text></g>
<g id="f-ct"><rect x="653" y="142" width="80" height="17" class="box"/><text x="657" y="155">ct  INTEGER;</text></g>
<g id="f-select"><rect x="607" y="183" width="172" height="33" class="box"/><text x="610" y="197">SELECT COUNT(*) INTO ct<tspan x="610" dy="13.33">FROM ope WHERE icau = id;</tspan></text></g>
<g id="f-cond"><polygon points="694,239 735,258 694,277 651,258" class="box"/><text x="694" y="262" class="m">ct != 0 ?</text></g>
<g id="f-ret0"><rect x="618" y="317" width="72" height="18" class="box"/><text x="654" y="330" class="m">RETURN 0;</text></g>
<g id="f-ret1"><rect x="696" y="317" width="72" height="18" class="box"/><text x="732" y="330" class="m">RETURN 1;</text></g>
<g id="f-end"><rect x="685" y="358" width="33" height="34" class="term"/><polygon points="701.5,358 718,375 701.5,392 685,375" fill="none" stroke="#cc3333" stroke-width="0.8"/><text x="701.5" y="379" class="m">End</text></g>
</svg>
